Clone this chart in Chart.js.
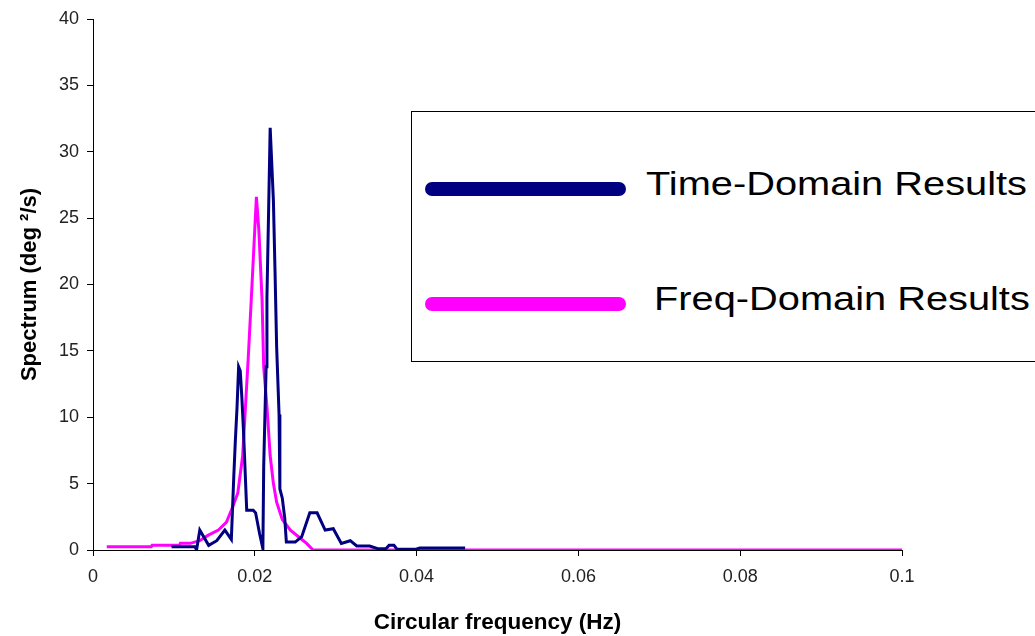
<!DOCTYPE html>
<html>
<head>
<meta charset="utf-8">
<script src="https://cdn.jsdelivr.net/npm/chart.js@4"></script>
<style>
  html, body { margin: 0; padding: 0; background: #fff; }
  #wrap { position: relative; width: 1035px; height: 636px; overflow: hidden; }
  #legend {
    position: absolute; left: 411px; top: 111px; width: 700px; height: 251px;
    border: 1px solid #000; background: #fff; box-sizing: border-box;
  }
  .swatch { position: absolute; left: 13px; width: 201px; height: 14px; border-radius: 7px; }
  .label {
    position: absolute; font-family: Arial, "Liberation Sans", sans-serif; font-size: 34px;
    line-height: 34px; color: #000; white-space: nowrap;
    transform: scaleX(1.17); transform-origin: left center;
  }
</style>
</head>
<body>
<div id="wrap">
  <canvas id="chart" width="1035" height="636"></canvas>
  <div id="legend">
    <div class="swatch" style="top:70px;background:#000080"></div>
    <div class="label" id="lab0" style="left:234px;top:54px"></div>
    <div class="swatch" style="top:185px;background:#ff00ff"></div>
    <div class="label" id="lab1" style="left:242px;top:169px"></div>
  </div>
</div>
<script>
// time-domain spectrum
const timeFreq = [0.0097, 0.0126, 0.0128, 0.0132, 0.0143, 0.0153, 0.0163, 0.0171, 0.0174, 0.0176,
  0.0178, 0.0180, 0.0182, 0.0184, 0.0186, 0.0190, 0.0198, 0.0201, 0.0206, 0.0210,
  0.0211, 0.0214, 0.0215, 0.0217, 0.0219, 0.0223, 0.0225, 0.0227, 0.0230, 0.0231,
  0.0234, 0.0237, 0.0239, 0.0250, 0.0258, 0.0268, 0.0277, 0.0287, 0.0297, 0.0307,
  0.0318, 0.0326, 0.0342, 0.0352, 0.0362, 0.0366, 0.0372, 0.0376, 0.0398, 0.0404, 0.0460];
const timeSpec = [0.25, 0.25, 0.0, 1.5, 0.35, 0.7, 1.5, 0.8, 5.5, 8.3,
  10.7, 13.8, 13.5, 11.5, 9.0, 3.0, 3.0, 2.8, 1.2, 0.1,
  6.3, 13.8, 19.0, 25.3, 31.8, 26.3, 21.0, 15.3, 10.2, 4.6,
  3.9, 2.4, 0.6, 0.6, 1.0, 2.8, 2.8, 1.5, 1.6, 0.5,
  0.7, 0.3, 0.3, 0.1, 0.1, 0.35, 0.35, 0.05, 0.05, 0.15, 0.15];

// frequency-domain spectrum
const freqFreq = [0.0017, 0.0072, 0.0073, 0.0107, 0.0108, 0.0120, 0.0132, 0.0142, 0.0155, 0.0165,
  0.0173, 0.0179, 0.0185, 0.0188, 0.0192, 0.0196, 0.0200, 0.0202, 0.0205, 0.0209,
  0.0211, 0.0215, 0.0219, 0.0223, 0.0227, 0.0234, 0.0244, 0.0254, 0.0264, 0.0272, 0.1000];
const freqSpec = [0.25, 0.25, 0.35, 0.35, 0.5, 0.5, 0.7, 1.1, 1.5, 2.1,
  3.3, 4.3, 7.1, 10.3, 14.6, 19.3, 24.2, 26.6, 24.1, 18.8,
  13.8, 10.8, 7.1, 5.0, 3.6, 2.3, 1.5, 1.0, 0.5, 0.0, 0.0];

const seriesNames = ["Time-Domain Results", "Freq-Domain Results"];
const xTicks = [0, 0.02, 0.04, 0.06, 0.08, 0.1];
const yTicks = [0, 5, 10, 15, 20, 25, 30, 35, 40];

document.getElementById("lab0").textContent = seriesNames[0];
document.getElementById("lab1").textContent = seriesNames[1];

const toPoints = (xs, ys) => xs.map((x, i) => ({ x: x, y: ys[i] }));

const tickFont = { family: "Arial, 'Liberation Sans', sans-serif", size: 18 };

new Chart(document.getElementById("chart"), {
  type: "line",
  data: {
    datasets: [
      {
        label: seriesNames[0],
        data: toPoints(timeFreq, timeSpec),
        borderColor: "#000080",
        borderWidth: 3,
        pointRadius: 0,
        tension: 0,
      },
      {
        label: seriesNames[1],
        data: toPoints(freqFreq, freqSpec),
        borderColor: "#ff00ff",
        borderWidth: 3,
        pointRadius: 0,
        tension: 0,
      },
    ],
  },
  options: {
    responsive: false,
    animation: false,
    layout: { padding: { top: 19, right: 133, left: 0, bottom: 0 } },
    plugins: { legend: { display: false }, tooltip: { enabled: false } },
    scales: {
      x: {
        type: "linear",
        min: 0,
        max: 0.1,
        afterBuildTicks: (s) => { s.ticks = xTicks.map((v) => ({ value: v })); },
        afterFit: (s) => { s.height = 86; },
        grid: { drawOnChartArea: false, color: "#000", tickLength: 6, tickColor: "#000" },
        border: { color: "#000", width: 1 },
        ticks: {
          color: "#222",
          font: tickFont,
          padding: 10,
          maxRotation: 0,
          callback: (v) => String(Number(v.toFixed(2))),
        },
        title: {
          display: true,
          text: "Circular frequency (Hz)",
          color: "#000",
          font: { family: "Arial, 'Liberation Sans', sans-serif", size: 22.5, weight: "bold" },
          padding: { top: 10, bottom: 0 },
        },
      },
      y: {
        min: 0,
        max: 40,
        afterBuildTicks: (s) => { s.ticks = yTicks.map((v) => ({ value: v })); },
        afterFit: (s) => { s.width = 93; },
        grid: { drawOnChartArea: false, color: "#000", tickLength: 6, tickColor: "#000" },
        border: { color: "#000", width: 1 },
        ticks: { color: "#222", font: tickFont, padding: 8 },
        title: {
          display: true,
          text: "Spectrum (deg \u00b2/s)",
          color: "#000",
          font: { family: "Arial, 'Liberation Sans', sans-serif", size: 22, weight: "bold" },
          padding: { top: 17, bottom: 4 },
        },
      },
    },
  },
});
</script>
</body>
</html>
